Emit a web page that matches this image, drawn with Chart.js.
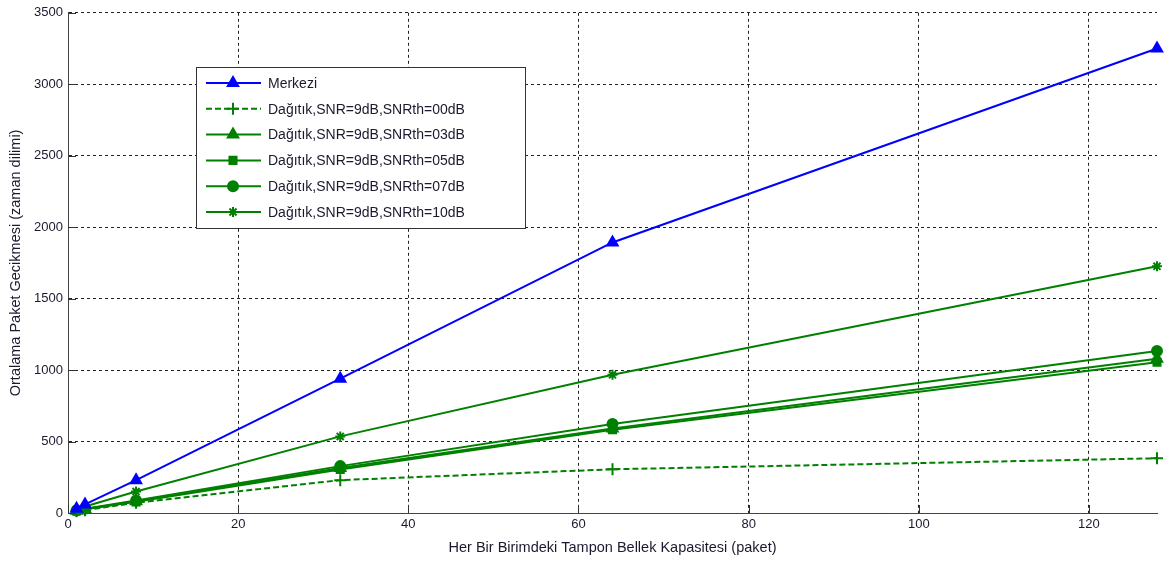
<!DOCTYPE html>
<html>
<head>
<meta charset="utf-8">
<script src="https://cdn.jsdelivr.net/npm/chart.js@4.4.1/dist/chart.umd.min.js"></script>
<style>
  html, body { margin: 0; padding: 0; background: #fff; }
  #wrap { width: 1168px; height: 561px; }
</style>
</head>
<body>
<div id="wrap"><canvas id="gecikmeChart" width="1168" height="561"></canvas></div>
<script>
// Veriler
const kapasite = [1, 2, 8, 32, 64, 128];
const merkezi = [30, 60, 230, 940, 1893, 3250];
const snrth00 = [12, 20, 72, 230, 306, 383];
const snrth03 = [16, 28, 82, 315, 592, 1080];
const snrth05 = [15, 26, 78, 305, 583, 1055];
const snrth07 = [17, 30, 88, 328, 622, 1134];
const snrth10 = [25, 45, 150, 536, 967, 1726];
const etiketler = [
  'Merkezi',
  'Dağıtık,SNR=9dB,SNRth=00dB',
  'Dağıtık,SNR=9dB,SNRth=03dB',
  'Dağıtık,SNR=9dB,SNRth=05dB',
  'Dağıtık,SNR=9dB,SNRth=07dB',
  'Dağıtık,SNR=9dB,SNRth=10dB'
];
const xTicks = [0, 20, 40, 60, 80, 100, 120];
const yTicks = [0, 500, 1000, 1500, 2000, 2500, 3000, 3500];

const MAVI = '#0000ff';
const YESIL = '#008000';
const YAZI = '#1a1a2e';
const FONT = '"Liberation Sans", Arial, sans-serif';

function seri(label, values, color, style, radius, dash) {
  return {
    label: label,
    data: kapasite.map((x, i) => ({ x: x, y: values[i] })),
    borderColor: color,
    backgroundColor: color,
    borderWidth: 2,
    borderDash: dash || [],
    pointStyle: style,
    pointRadius: radius,
    pointBorderWidth: 2,
    pointHoverRadius: radius,
    tension: 0,
    clip: false
  };
}

// Eksen içindeki lejant + içe dönük tik çizgileri
const lejantPlugin = {
  id: 'icLejant',
  afterDraw(chart) {
    const ctx = chart.ctx;
    const area = chart.chartArea;
    ctx.save();

    // tikler (MATLAB gibi içe dönük)
    ctx.strokeStyle = '#333';
    ctx.lineWidth = 1;
    ctx.beginPath();
    chart.scales.x.ticks.forEach(t => {
      const px = Math.round(chart.scales.x.getPixelForValue(t.value)) + 0.5;
      ctx.moveTo(px, area.bottom);
      ctx.lineTo(px, area.bottom - 8);
    });
    chart.scales.y.ticks.forEach(t => {
      const py = Math.round(chart.scales.y.getPixelForValue(t.value)) + 0.5;
      ctx.moveTo(area.left, py);
      ctx.lineTo(area.left + 8, py);
    });
    ctx.stroke();

    const bx = 196, by = 67, bw = 329, bh = 161;
    ctx.fillStyle = '#fff';
    ctx.fillRect(bx, by, bw, bh);
    ctx.strokeStyle = '#333';
    ctx.strokeRect(bx + 0.5, by + 0.5, bw, bh);
    ctx.font = '14px ' + FONT;
    ctx.textBaseline = 'middle';
    chart.data.datasets.forEach((ds, i) => {
      const y = by + 16 + i * 25.8;
      ctx.strokeStyle = ds.borderColor;
      ctx.lineWidth = ds.borderWidth;
      ctx.setLineDash(ds.borderDash);
      ctx.beginPath();
      ctx.moveTo(206, y);
      ctx.lineTo(261, y);
      ctx.stroke();
      ctx.setLineDash([]);
      ctx.fillStyle = ds.borderColor;
      Chart.helpers.drawPoint(ctx, {
        pointStyle: ds.pointStyle,
        radius: ds.pointRadius,
        rotation: 0,
        borderWidth: 2
      }, 233, y);
      ctx.fillStyle = YAZI;
      ctx.fillText(ds.label, 268, y + 1);
    });
    ctx.restore();
  }
};

const ctx = document.getElementById('gecikmeChart').getContext('2d');

new Chart(ctx, {
  type: 'line',
  data: {
    datasets: [
      seri(etiketler[0], merkezi, MAVI, 'triangle', 6),
      seri(etiketler[1], snrth00, YESIL, 'cross', 6, [6, 3]),
      seri(etiketler[2], snrth03, YESIL, 'triangle', 6),
      seri(etiketler[3], snrth05, YESIL, 'rect', 5),
      seri(etiketler[4], snrth07, YESIL, 'circle', 5),
      seri(etiketler[5], snrth10, YESIL, 'star', 5)
    ]
  },
  options: {
    responsive: false,
    animation: false,
    layout: { padding: { top: 8, right: 11, left: 0, bottom: 0 } },
    plugins: {
      legend: { display: false },
      tooltip: { enabled: false }
    },
    scales: {
      x: {
        type: 'linear',
        min: 0,
        max: 128,
        afterBuildTicks: (s) => { s.ticks = xTicks.map(v => ({ value: v })); },
        afterFit: (s) => { s.height = 48; },
        ticks: {
          color: YAZI,
          font: { family: FONT, size: 13 },
          padding: 4,
          callback: (v) => String(v)
        },
        grid: { color: '#222', drawTicks: false },
        border: { display: true, color: '#444', width: 1, dash: [3, 3] },
        title: {
          display: true,
          text: 'Her Bir Birimdeki Tampon Bellek Kapasitesi (paket)',
          color: YAZI,
          font: { family: FONT, size: 14.5 },
          padding: { top: 2, bottom: 4 }
        }
      },
      y: {
        type: 'linear',
        min: 0,
        max: 3500,
        afterBuildTicks: (s) => { s.ticks = yTicks.map(v => ({ value: v })); },
        afterFit: (s) => { s.width = 68; },
        ticks: {
          color: YAZI,
          font: { family: FONT, size: 13 },
          padding: 5,
          callback: (v) => String(v)
        },
        grid: { color: '#222', drawTicks: false },
        border: { display: true, color: '#444', width: 1, dash: [3, 3] },
        title: {
          display: true,
          text: 'Ortalama Paket Gecikmesi (zaman dilimi)',
          color: YAZI,
          font: { family: FONT, size: 14.5 },
          padding: { top: 7, bottom: 4 }
        }
      }
    }
  },
  plugins: [lejantPlugin]
});
</script>
</body>
</html>
